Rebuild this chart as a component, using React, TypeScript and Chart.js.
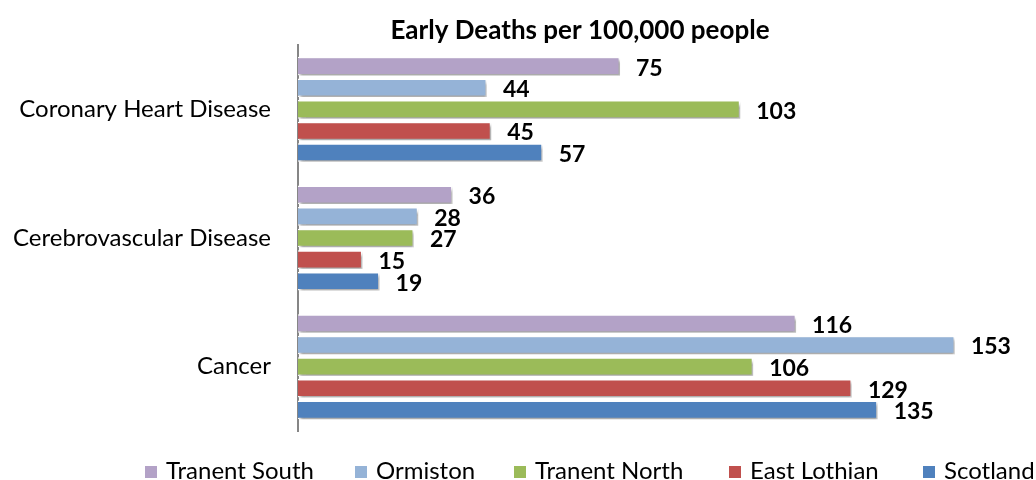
import React, { useEffect, useRef } from "react";
import { Chart, registerables } from "chart.js";

Chart.register(...registerables);

const TITLE = "Early Deaths per 100,000 people";
const categories = ["Coronary Heart Disease", "Cerebrovascular Disease", "Cancer"];
const seriesNames = ["Tranent South", "Ormiston", "Tranent North", "East Lothian", "Scotland"];
const tranentSouth = [75, 36, 116];
const ormiston = [44, 28, 153];
const tranentNorth = [103, 27, 106];
const eastLothian = [45, 15, 129];
const scotland = [57, 19, 135];
const seriesColors = ["#B3A2C7", "#95B3D7", "#9BBB59", "#C0504D", "#4F81BD"];
const legendX = [145, 355, 514, 729, 923];

const FONT = "Lato, 'Open Sans', sans-serif";

const shadowPlugin = {
  id: "barShadow",
  beforeDatasetsDraw(chart: any) {
    const ctx = chart.ctx;
    ctx.save();
    ctx.shadowColor = "rgba(0,0,0,0.35)";
    ctx.shadowBlur = 3;
    ctx.shadowOffsetX = 2;
    ctx.shadowOffsetY = 3;
  },
  afterDatasetsDraw(chart: any) {
    chart.ctx.restore();
  },
};

const labelPlugin = {
  id: "valueLabels",
  afterDraw(chart: any) {
    const ctx = chart.ctx;
    ctx.save();
    ctx.font = `bold 23px ${FONT}`;
    ctx.fillStyle = "#000";
    ctx.textAlign = "left";
    ctx.textBaseline = "middle";
    chart.data.datasets.forEach((ds: any, i: number) => {
      const meta = chart.getDatasetMeta(i);
      meta.data.forEach((bar: any, j: number) => {
        ctx.fillText(String(ds.data[j]), bar.x + 16, bar.y + 2);
      });
    });
    // title
    ctx.textAlign = "center";
    ctx.font = `bold 26px ${FONT}`;
    ctx.fillText(TITLE, 580, 31);
    // legend
    ctx.font = `24px ${FONT}`;
    ctx.textAlign = "left";
    ctx.textBaseline = "alphabetic";
    chart.data.datasets.forEach((ds: any, i: number) => {
      const x = legendX[i];
      ctx.fillStyle = seriesColors[i];
      ctx.fillRect(x, 466, 12, 12);
      ctx.fillStyle = "#000";
      ctx.fillText(ds.label, x + 21, 479);
    });
    ctx.restore();
  },
};

export default function App() {
  const ref = useRef<HTMLCanvasElement>(null);
  useEffect(() => {
    document.body.style.margin = "0";
    const allData = [tranentSouth, ormiston, tranentNorth, eastLothian, scotland];
    const chart = new Chart(ref.current!, {
      type: "bar",
      data: {
        labels: categories,
        datasets: seriesNames.map((name, i) => ({
          label: name,
          data: allData[i],
          backgroundColor: seriesColors[i],
          borderColor: "#FFFFFF",
          borderWidth: 1.5,
          barPercentage: 0.86,
          categoryPercentage: 0.84,
        })),
      },
      options: {
        indexAxis: "y",
        animation: false,
        responsive: false,
        layout: { padding: { top: 45, bottom: 49, left: 0, right: 51 } },
        plugins: {
          legend: { display: false },
          title: { display: false },
          tooltip: { enabled: false },
        },
        scales: {
          x: { display: false, min: 0, max: 160 },
          y: {
            afterFit: (s: any) => {
              s.width = 298;
            },
            grid: { display: true, drawOnChartArea: false, drawTicks: false, color: "transparent" },
            border: { display: true, color: "#868686", width: 2 },
            ticks: { color: "#000", padding: 27, font: { family: FONT, size: 24 } },
          },
        },
      },
      plugins: [shadowPlugin, labelPlugin],
    });
    return () => chart.destroy();
  }, []);
  return <canvas ref={ref} width={1036} height={480} style={{ display: "block" }} />;
}
